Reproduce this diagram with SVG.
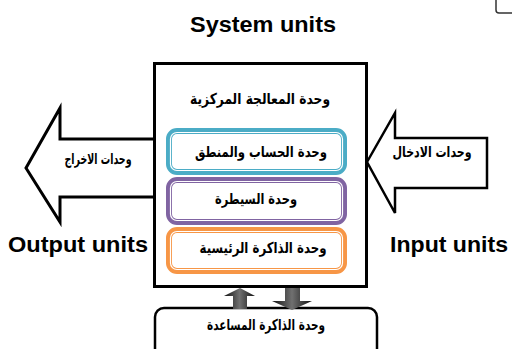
<svg xmlns="http://www.w3.org/2000/svg" width="512" height="349" viewBox="0 0 512 349">
<style>
.lbl{font-family:"Liberation Sans",Arial,sans-serif;font-weight:bold;font-size:22px;fill:#000}
.ar{font-family:"DejaVu Sans","Noto Sans",sans-serif;font-weight:bold;font-size:15px;fill:#000;text-anchor:middle;direction:rtl}
.box{fill:#fff;stroke:#000}
.inner{fill:#fff;stroke-width:6}
.gap{fill:none;stroke:#fff;stroke-width:1.2}
</style>
<defs>
<linearGradient id="g" x1="0" y1="0" x2="1" y2="0">
<stop offset="0" stop-color="#111"/>
<stop offset="0.5" stop-color="#707070"/>
<stop offset="1" stop-color="#111"/>
</linearGradient>
</defs>
<text class="lbl" x="190" y="32" textLength="146" lengthAdjust="spacingAndGlyphs">System units</text>
<path d="M496,0 V10 Q496,13 499,13 H512" fill="none" stroke="#333" stroke-width="1.5"/>
<g id="main">
<rect class="box" x="154.5" y="63.5" width="212" height="223" stroke-width="3"/>
<text class="ar" x="260" y="104" textLength="140" lengthAdjust="spacingAndGlyphs">وحدة المعالجة  المركزية</text>
</g>
<g id="alu">
<rect class="inner" x="169" y="131" width="175" height="41" rx="8" stroke="#4bacc6"/>
<rect class="gap" x="170.5" y="132.5" width="172" height="38" rx="6.5"/>
<text class="ar" x="261" y="157" textLength="132" lengthAdjust="spacingAndGlyphs">وحدة الحساب والمنطق</text>
</g>
<g id="cu">
<rect class="inner" x="169" y="180" width="175" height="42" rx="8" stroke="#8064a2"/>
<rect class="gap" x="170.5" y="181.5" width="172" height="39" rx="6.5"/>
<text class="ar" x="256" y="204" textLength="82" lengthAdjust="spacingAndGlyphs">وحدة السيطرة</text>
</g>
<g id="mem">
<rect class="inner" x="169" y="230" width="175" height="41" rx="8" stroke="#f79646"/>
<rect class="gap" x="170.5" y="231.5" width="172" height="38" rx="6.5"/>
<text class="ar" x="263" y="253" textLength="127" lengthAdjust="spacingAndGlyphs">وحدة الذاكرة الرئيسية</text>
</g>
<g id="output">
<path d="M153,139 H60 V108 L26,168 L60,222 V197 H153" fill="#fff" stroke="#000" stroke-width="3" stroke-linejoin="miter"/>
<text class="ar" x="98" y="164" font-size="13" textLength="67" lengthAdjust="spacingAndGlyphs">وحدات الاخراج</text>
<text class="lbl" x="8" y="252" textLength="140" lengthAdjust="spacingAndGlyphs">Output units</text>
</g>
<g id="input">
<path d="M367,162 L395,113 V138 H487 V188 H395 V213 Z" fill="#fff" stroke="#000" stroke-width="2.5" stroke-linejoin="miter"/>
<text class="ar" x="432" y="157" font-size="13" textLength="79" lengthAdjust="spacingAndGlyphs">وحدات الادخال</text>
<text class="lbl" x="390" y="252" textLength="118" lengthAdjust="spacingAndGlyphs">Input units</text>
</g>
<g id="aux">
<rect class="box" x="155" y="308" width="222" height="52" rx="9" stroke-width="2.5"/>
<text class="ar" x="266" y="330" font-size="14" textLength="118" lengthAdjust="spacingAndGlyphs">وحدة الذاكرة المساعدة</text>
</g>
<g id="connectors">
<polygon points="240,288 255,296 247,296 247,309 233,309 233,296 224,296" fill="url(#g)"/>
<polygon points="285,288 300,288 300,301 312,301 292,310 272,301 285,301" fill="url(#g)"/>
</g>
</svg>
